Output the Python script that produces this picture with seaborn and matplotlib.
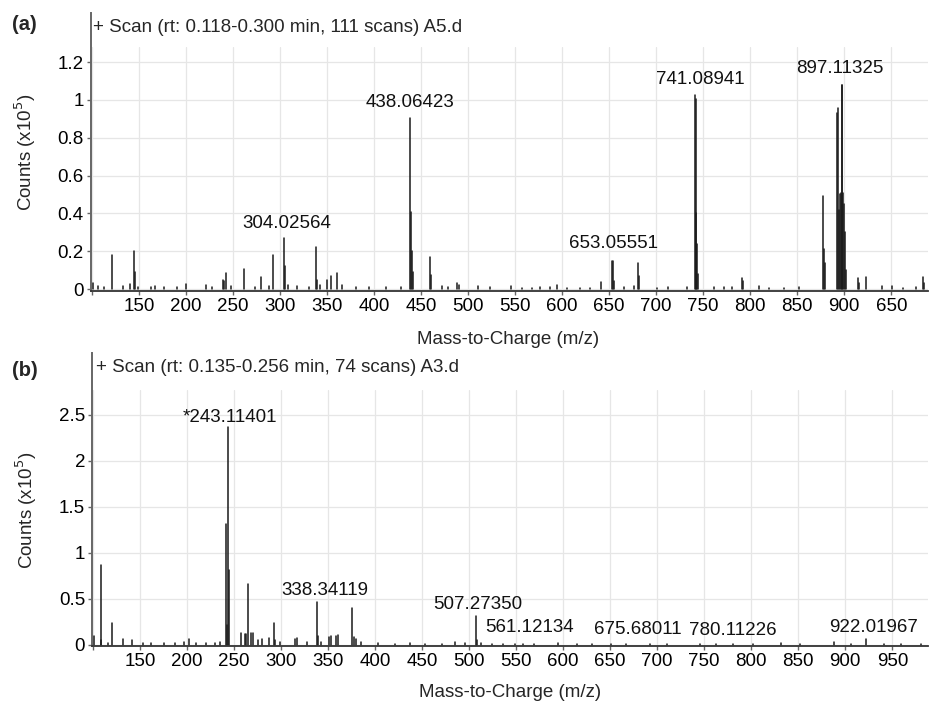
import numpy as np
import pandas as pd
import matplotlib
matplotlib.use("Agg")
import matplotlib.pyplot as plt
import seaborn as sns

# ---------------- data ----------------
# Panel (a): + Scan (rt: 0.118-0.300 min, 111 scans) A5.d
a_mz = [101, 106, 113, 121.0, 133, 140, 144.7, 145.5, 149, 163, 167, 177, 190, 200,
        221, 228, 239, 240.0, 243.0, 248, 262.0, 273, 279.5, 288, 293.0, 304.0, 305.0,
        308, 318, 331, 338.6, 339.5, 343, 350.4, 354.7, 360.6, 366, 381, 395, 413, 429,
        438.06, 439.0, 440.0, 441.0, 459.8, 461.0, 472, 479, 488.5, 490, 511, 523,
        546, 557, 568, 576, 587, 595, 605, 619, 630, 641, 653.06, 654.0, 655.0, 666, 676,
        680.5, 681.5, 701, 713, 733, 741.09, 742.0, 742.5, 743.2, 744.0, 761, 772, 781,
        791, 792, 809, 820, 836, 852, 877, 878, 879, 892.5, 893.5, 894.5, 895.5, 896.5,
        897.11, 897.6, 898.5, 899.5, 900.5, 901.5, 915, 916, 923, 940, 951, 962, 976,
        984, 985]
a_int = [0.03, 0.015, 0.01, 0.18, 0.015, 0.027, 0.20, 0.09, 0.01, 0.012, 0.015, 0.01, 0.013, 0.027,
         0.02, 0.01, 0.05, 0.045, 0.086, 0.015, 0.105, 0.012, 0.063, 0.015, 0.18, 0.268, 0.12,
         0.02, 0.015, 0.012, 0.224, 0.05, 0.02, 0.05, 0.069, 0.083, 0.02, 0.012, 0.01, 0.01, 0.012,
         0.903, 0.405, 0.2, 0.09, 0.171, 0.075, 0.015, 0.012, 0.03, 0.02, 0.015, 0.01,
         0.015, 0.008, 0.008, 0.01, 0.01, 0.02, 0.008, 0.008, 0.008, 0.035, 0.148, 0.148, 0.045, 0.01, 0.015,
         0.136, 0.07, 0.008, 0.012, 0.01, 1.026, 1.005, 0.40, 0.24, 0.08, 0.01, 0.01, 0.012,
         0.056, 0.04, 0.016, 0.008, 0.006, 0.01, 0.49, 0.21, 0.14, 0.93, 0.955, 0.42, 0.5, 0.51,
         1.08, 1.08, 0.51, 0.45, 0.3, 0.1, 0.056, 0.03, 0.062, 0.018, 0.016, 0.008, 0.01,
         0.062, 0.03]

# Panel (b): + Scan (rt: 0.135-0.256 min, 74 scans) A3.d
b_mz = [101, 108, 109, 116, 120.6, 132, 141, 153, 162, 176, 187, 197, 201.9, 209, 220, 230, 235,
        241.5, 242.2, 243.11, 244.5, 257, 262, 263, 265.2, 268.4, 270, 275, 280, 287, 292.8, 294,
        299, 315, 317, 328, 338.34, 339.5, 342, 351, 353, 358, 360, 375.8, 378, 380, 385, 403, 421,
        437, 453, 471, 485, 496, 507.27, 508, 513, 524, 536, 549, 557, 569, 594, 615, 631, 651,
        667, 692, 710, 745, 763, 781, 802, 832, 852, 888, 906, 922.0, 941, 959, 980]
b_int = [0.098, 0.87, 0.05, 0.02, 0.24, 0.06, 0.05, 0.02, 0.02, 0.02, 0.02, 0.03, 0.06, 0.02, 0.02, 0.02, 0.03,
         1.31, 0.22, 2.37, 0.82, 0.134, 0.12, 0.12, 0.66, 0.13, 0.13, 0.05, 0.07, 0.08, 0.24, 0.05,
         0.03, 0.06, 0.08, 0.03, 0.47, 0.10, 0.03, 0.09, 0.10, 0.10, 0.11, 0.40, 0.09, 0.07, 0.03, 0.02, 0.015,
         0.02, 0.015, 0.015, 0.03, 0.02, 0.31, 0.05, 0.02, 0.015, 0.015, 0.015, 0.015, 0.01, 0.02, 0.015, 0.01, 0.015,
         0.01, 0.01, 0.008, 0.012, 0.01, 0.012, 0.008, 0.025, 0.008, 0.035, 0.01, 0.07, 0.01, 0.01, 0.01]

x_ticks = [100, 150, 200, 250, 300, 350, 400, 450, 500, 550, 600, 650, 700, 750, 800, 850, 900, 950]
a_xticklabels = ["", "150", "200", "250", "300", "350", "400", "450", "500", "550", "600",
                 "650", "700", "750", "800", "850", "900", "650"]
b_xticklabels = ["", "150", "200", "250", "300", "350", "400", "450", "500", "550", "600",
                 "650", "700", "750", "800", "850", "900", "950"]
a_yticks = [0, 0.2, 0.4, 0.6, 0.8, 1.0, 1.2]
a_yticklabels = ["0", "0.2", "0.4", "0.6", "0.8", "1", "1.2"]
b_yticks = [0, 0.5, 1.0, 1.5, 2.0, 2.5]
b_yticklabels = ["0", "0.5", "1", "1.5", "2", "2.5"]

a_labels = ["438.06423", "304.02564", "653.05551", "741.08941", "897.11325"]
a_label_x = [438.3, 307.1, 654.6, 746.8, 895.4]
a_label_y = [0.984, 0.344, 0.242, 1.106, 1.164]
b_labels = ["*243.11401", "338.34119", "507.27350", "561.12134", "675.68011", "780.11226", "922.01967"]
b_label_x = [245.7, 346.8, 509.5, 564.3, 679.2, 780.8, 929.7]
b_label_y = [2.467, 0.587, 0.435, 0.185, 0.163, 0.152, 0.185]

a_title = "+ Scan (rt: 0.118-0.300 min, 111 scans) A5.d"
b_title = "+ Scan (rt: 0.135-0.256 min, 74 scans) A3.d"

# ---------------- style ----------------
sns.set_theme(style="whitegrid")
plt.rcParams["font.family"] = ["Liberation Sans", "DejaVu Sans"]
FS = 13.5

fig = plt.figure(figsize=(9.3, 7.04), dpi=100)
ax_a = fig.add_axes([0.0975, 0.5866, 0.9003, 0.3466])
ax_b = fig.add_axes([0.0989, 0.0824, 0.899, 0.3636])


def stick_frame(mz, inten):
    rows = []
    for i, (m, h) in enumerate(zip(mz, inten)):
        rows.append((m, 0.0, i))
        rows.append((m, h, i))
    return pd.DataFrame(rows, columns=["mz", "counts", "pid"])


def draw_panel(ax, mz, inten, xlim, ylim, spine_top, yticks, yticklabels, xticklabels,
               labels, lx, ly, ylabel_y, xlabel_x, xlabel_y):
    df = stick_frame(mz, inten)
    sns.lineplot(data=df, x="mz", y="counts", units="pid", estimator=None, sort=False,
                 color="#1a1a1a", linewidth=1.1, ax=ax, legend=False)
    ax.set_xlim(*xlim)
    ax.set_ylim(*ylim)
    ax.set_xticks(x_ticks)
    ax.set_xticklabels(xticklabels, fontsize=FS)
    ax.set_yticks(yticks)
    ax.set_yticklabels(yticklabels, fontsize=FS)
    ax.grid(True, color="#e6e6e6", linewidth=0.9)
    ax.set_facecolor("white")
    for s in ["top", "right"]:
        ax.spines[s].set_visible(False)
    ax.spines["left"].set_color("#666666")
    ax.spines["left"].set_linewidth(1.4)
    ax.spines["left"].set_bounds(ylim[0], spine_top)
    ax.spines["bottom"].set_color("#333333")
    ax.spines["bottom"].set_linewidth(1.3)
    ax.tick_params(axis="both", which="major", direction="out", length=3, width=1,
                   color="#666666", pad=2, labelcolor="black")
    ax.tick_params(axis="x", bottom=True)
    ax.tick_params(axis="y", left=True)
    ax.set_xlabel("Mass-to-Charge (m/z)", fontsize=FS)
    ax.set_ylabel("Counts (x10$^5$)", fontsize=FS)
    ax.xaxis.set_label_coords(xlabel_x, xlabel_y)
    ax.yaxis.set_label_coords(-0.063, ylabel_y)
    for t, x, y in zip(labels, lx, ly):
        ax.text(x, y, t, fontsize=FS, ha="center", va="center", color="#111111")


draw_panel(ax_a, a_mz, a_int, (98.6, 989), (-0.0106, 1.28), 1.46,
           a_yticks, a_yticklabels, a_xticklabels, a_labels, a_label_x, a_label_y,
           0.57, 0.498, -0.165)
draw_panel(ax_b, b_mz, b_int, (98.9, 988), (-0.011, 2.77), 3.17,
           b_yticks, b_yticklabels, b_xticklabels, b_labels, b_label_x, b_label_y,
           0.53, 0.5, -0.15)

fig.text(93 / 930, 1 - 27 / 704, a_title, fontsize=FS, ha="left", va="center")
fig.text(96 / 930, 1 - 368 / 704, b_title, fontsize=FS, ha="left", va="center")
fig.text(12 / 930, 1 - 25 / 704, "(a)", fontsize=14.5, fontweight="bold", ha="left", va="center")
fig.text(12 / 930, 1 - 371 / 704, "(b)", fontsize=14.5, fontweight="bold", ha="left", va="center")

fig.savefig("out.png", dpi=100, facecolor="white")
